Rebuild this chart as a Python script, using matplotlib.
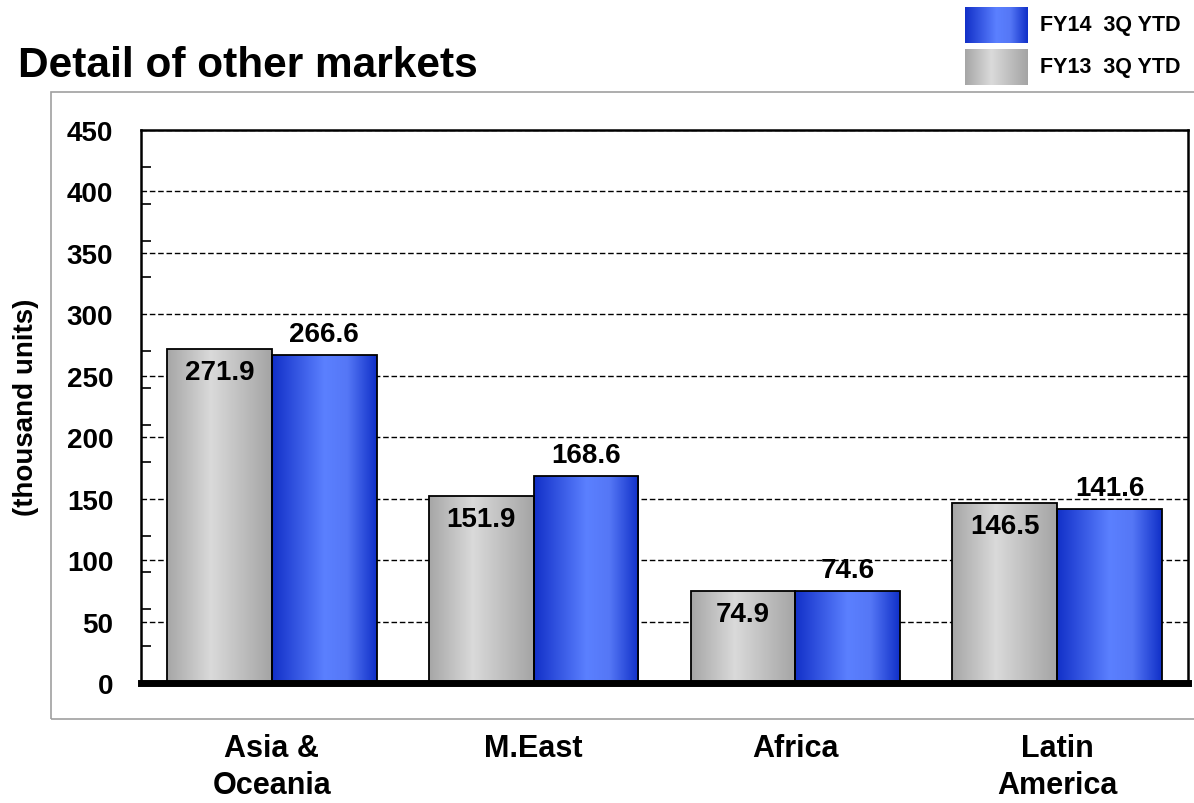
import matplotlib.pyplot as plt
import numpy as np
from matplotlib.colors import LinearSegmentedColormap
from matplotlib.patches import Rectangle

plt.rcParams['font.family'] = ['Liberation Sans', 'DejaVu Sans']
plt.rcParams['font.weight'] = 'bold'

# data
regions = ['Asia &\nOceania', 'M.East', 'Africa', 'Latin\nAmerica']
fy13 = [271.9, 151.9, 74.9, 146.5]
fy14 = [266.6, 168.6, 74.6, 141.6]
series_names = ['FY14  3Q YTD', 'FY13  3Q YTD']

gray_cmap = LinearSegmentedColormap.from_list(
    'grayg', [(0, '#a6a6a6'), (0.42, '#dadada'), (1, '#a4a4a4')])
blue_cmap = LinearSegmentedColormap.from_list(
    'blueg', [(0, '#1230c8'), (0.5, '#5b80ff'), (0.72, '#5577f6'), (1, '#1030c8')])
grad = np.linspace(0, 1, 256).reshape(1, -1)


def gradient_bars(ax, x, heights, width, cmap):
    bars = ax.bar(x, heights, width, facecolor='none', edgecolor='black',
                  linewidth=1.3, zorder=3)
    for b in bars:
        img = ax.imshow(grad, cmap=cmap, aspect='auto', zorder=2,
                        extent=(b.get_x(), b.get_x() + b.get_width(), 0, b.get_height()))
        img.set_clip_path(b)
    return bars


fig = plt.figure(figsize=(11.94, 8.04), dpi=100)
ax = fig.add_axes([141 / 1194, 1 - 684 / 804, (1188 - 141) / 1194, (684 - 131) / 804])

x = np.arange(len(regions))
w = 0.4
b13 = gradient_bars(ax, x - w / 2, fy13, w, gray_cmap)
b14 = gradient_bars(ax, x + w / 2, fy14, w, blue_cmap)

ax.set_xlim(-0.5, 3.5)
ax.set_ylim(0, 450)

# value labels
for b, v in zip(b13, fy13):
    ax.annotate(f'{v:.1f}', (b.get_x() + b.get_width() / 2, v), xytext=(0, -23),
                textcoords='offset pixels', ha='center', va='center',
                fontsize=20, fontweight='bold', zorder=5)
for b, v in zip(b14, fy14):
    ax.annotate(f'{v:.1f}', (b.get_x() + b.get_width() / 2, v), xytext=(0, 8),
                textcoords='offset pixels', ha='center', va='bottom',
                fontsize=20, fontweight='bold', zorder=5)

ax.set_yticks(range(0, 451, 50))
ax.set_yticks(range(0, 451, 30), minor=True)
ax.tick_params(axis='y', which='major', length=0, pad=20, labelsize=20)
ax.tick_params(axis='y', which='minor', direction='in', length=7, width=1.2)
ax.set_xticks([])
ax.yaxis.grid(True, linestyle=(0, (4, 2)), color='black', linewidth=1.0, zorder=0)
ax.set_axisbelow(True)

for s in ['left', 'right', 'top']:
    ax.spines[s].set_linewidth(1.8)
ax.spines['bottom'].set_linewidth(5)

ax.set_ylabel('(thousand units)', fontsize=20, fontweight='bold')
ax.yaxis.set_label_coords(-102 / 1047, 0.5)

for xi, name in zip(x, regions):
    ax.text(xi, -41, name, ha='center', va='top', fontsize=22,
            fontweight='bold', linespacing=1.3, clip_on=False)

# outer frame
fig.patches.append(Rectangle((51 / 1194, 1 - 720 / 804), (1196 - 51) / 1194, (720 - 93) / 804,
                             transform=fig.transFigure, fill=False,
                             edgecolor='#a0a0a0', linewidth=1.2, zorder=0))

fig.text(18 / 1194, 1 - 66 / 804, 'Detail of other markets', fontsize=30.5,
         fontweight='bold', va='center', ha='left')

# legend
for i, (name, cmap) in enumerate(zip(series_names, [blue_cmap, gray_cmap])):
    y0 = 8 + i * 42
    lax = fig.add_axes([965 / 1194, 1 - (y0 + 36) / 804, 63 / 1194, 36 / 804])
    lax.imshow(grad, cmap=cmap, aspect='auto')
    lax.axis('off')
    fig.text(1040 / 1194, 1 - (y0 + 18) / 804, name, fontsize=15.5,
             fontweight='bold', va='center', ha='left')

fig.savefig('out.png', dpi=100)
